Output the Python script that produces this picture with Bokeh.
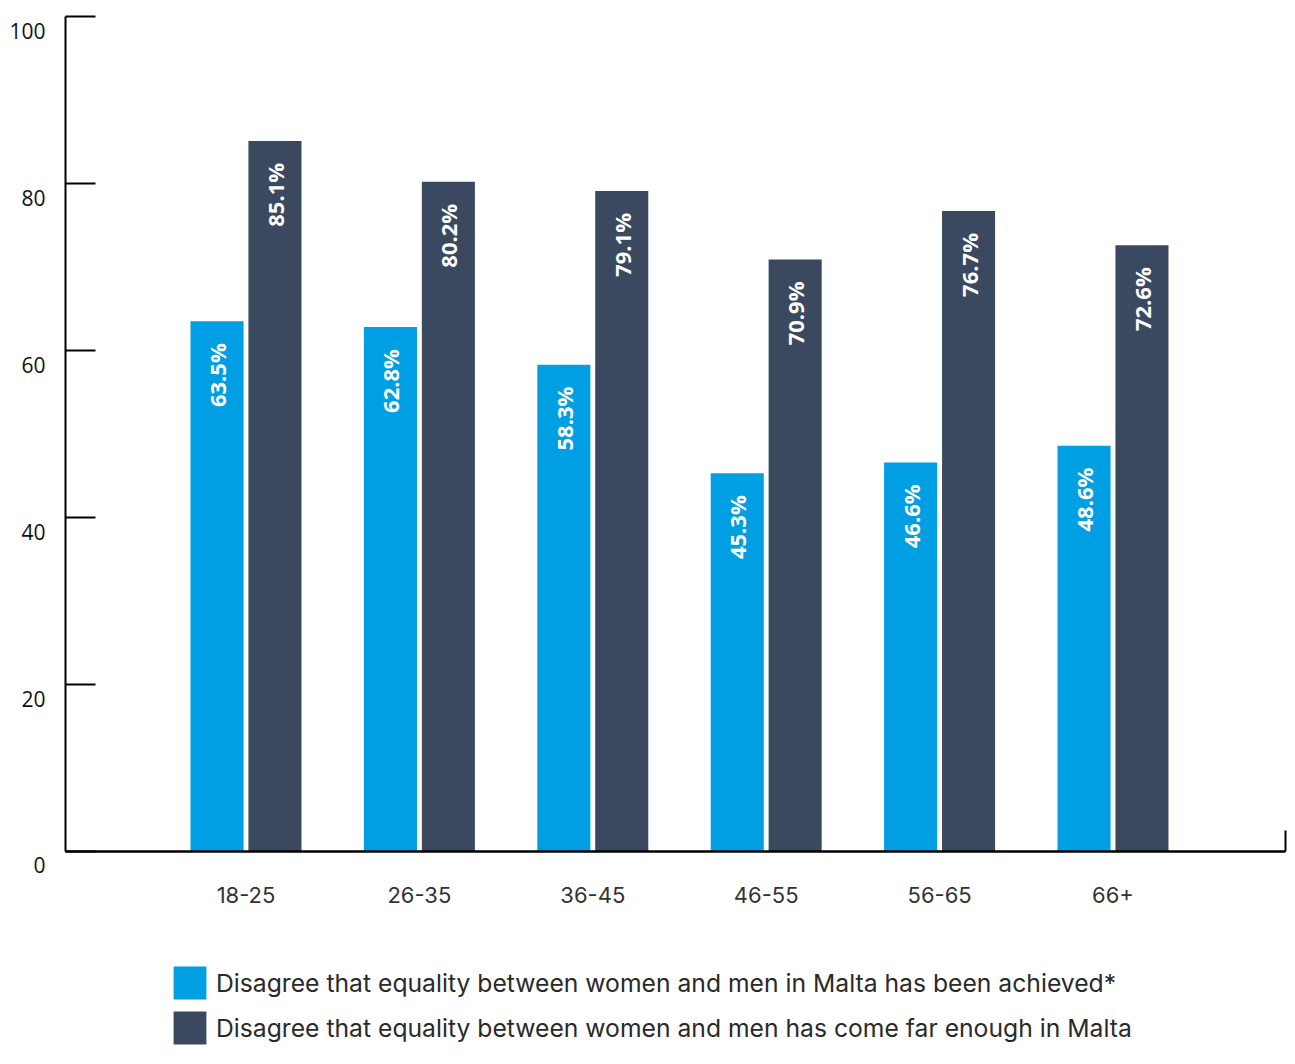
import numpy as np
from bokeh.plotting import figure
from bokeh.layouts import column
from bokeh.models import (Range1d, LinearAxis, FixedTicker, ColumnDataSource, Legend,
                          LegendItem, CustomJSTickFormatter)
from bokeh.transform import dodge
from bokeh.core.properties import value
from bokeh.embed import file_html
from bokeh.resources import INLINE

# ---- data ----
age_groups = ["18-25", "26-35", "36-45", "46-55", "56-65", "66+"]
achieved = [63.5, 62.8, 58.3, 45.3, 46.6, 48.6]
far_enough = [85.1, 80.2, 79.1, 70.9, 76.7, 72.6]
y_ticks = [0, 20, 40, 60, 80, 100]
series_names = [
    "Disagree that equality between women and men in Malta has been achieved*",
    "Disagree that equality between women and men has come far enough in Malta",
]
colors = ["#009FE3", "#3A4960"]

# ---- layout ----
W = 1287
H1, H2 = 930, 118
B_LEFT, B_RIGHT, B_TOP = 65, 2, 16
B_BOTTOM = H1 - 851
frame_w = W - B_LEFT - B_RIGHT
frame_h = H1 - B_TOP - B_BOTTOM
px_per_unit = frame_h / 100.0
label_shift = 14 / px_per_unit

group_px = 173.4           # pixel distance between group centres
first_px = 245.5 - B_LEFT  # first group centre from frame left
x_start = -first_px / group_px
x_end = x_start + frame_w / group_px

idx = list(range(len(age_groups)))
src = ColumnDataSource(dict(
    idx=idx, achieved=achieved, far=far_enough,
    achieved_lbl=[f"{v}%" for v in achieved],
    far_lbl=[f"{v}%" for v in far_enough],
))

p = figure(width=W, height=H1, output_backend="svg", toolbar_location=None,
           x_range=Range1d(x_start, x_end), y_range=Range1d(0, 100),
           x_axis_type=None, y_axis_type=None,
           min_border_left=B_LEFT, min_border_right=B_RIGHT,
           min_border_top=B_TOP, min_border_bottom=B_BOTTOM)
p.outline_line_color = None
p.background_fill_color = "white"
p.border_fill_color = "white"

off, bw = 0.167, 0.306
r1 = p.vbar(x=dodge('idx', -off, range=p.x_range), top='achieved', width=bw,
            source=src, fill_color=colors[0], line_color=None)
r2 = p.vbar(x=dodge('idx', off, range=p.x_range), top='far', width=bw,
            source=src, fill_color=colors[1], line_color=None)

for col, lbl, sgn in (("achieved", "achieved_lbl", -1), ("far", "far_lbl", 1)):
    p.text(x=dodge('idx', sgn * off, range=p.x_range), y=col, text=lbl, source=src,
           angle=np.pi / 2, text_align="right", text_baseline="middle", y_offset=22,
           text_color="white", text_font=value("Open Sans"), text_font_style="bold",
           text_font_size="22px")

# y axis: line + inward ticks, no labels
yax = LinearAxis(ticker=FixedTicker(ticks=y_ticks, minor_ticks=[]), bounds=(0, 100),
                 axis_line_width=2, axis_line_color="black",
                 major_tick_in=30, major_tick_out=0, major_tick_line_width=2,
                 major_tick_line_color="black", minor_tick_line_color=None,
                 major_label_text_font_size="1px", major_label_text_alpha=0,
                 major_label_standoff=0)
p.add_layout(yax, "left")

# y labels, each a little below its tick (the bottom one pushed down by an empty first line)
ylab_ticks = [t if t == y_ticks[0] else t - label_shift for t in y_ticks]
ylab = LinearAxis(ticker=FixedTicker(ticks=ylab_ticks, minor_ticks=[]),
                  formatter=CustomJSTickFormatter(
                      args=dict(s=label_shift, lo=y_ticks[0]),
                      code="if (Math.abs(tick - lo) < 1e-9) { return '\\n' + lo; }"
                           " return Math.round(tick + s).toString();"),
                  axis_line_color=None, major_tick_line_color=None, minor_tick_line_color=None,
                  major_label_text_font="Open Sans", major_label_text_font_size="21px",
                  major_label_text_line_height=0.95,
                  major_label_text_color="#111111", major_label_standoff=14)
p.add_layout(ylab, "left")

# x axis
xax = LinearAxis(ticker=FixedTicker(ticks=idx, minor_ticks=[x_end - 0.002]),
                 major_label_overrides={i: g for i, g in enumerate(age_groups)},
                 axis_line_width=2.5, axis_line_color="black",
                 major_tick_line_color=None, minor_tick_in=21, minor_tick_out=0,
                 minor_tick_line_width=2, minor_tick_line_color="black",
                 major_label_standoff=29, major_label_text_font="Inter",
                 major_label_text_font_size="22px", major_label_text_color="#333333")
p.add_layout(xax, "below")

# ---- legend strip (its bars fall outside its y range, only the legend shows) ----
p2 = figure(width=W, height=H2, output_backend="svg", toolbar_location=None,
            x_range=p.x_range, y_range=Range1d(1000, 1001),
            x_axis_type=None, y_axis_type=None,
            min_border_left=B_LEFT, min_border_right=B_RIGHT,
            min_border_top=0, min_border_bottom=0)
p2.outline_line_color = None
p2.background_fill_color = "white"
p2.border_fill_color = "white"
l1 = p2.vbar(x=dodge('idx', -off, range=p2.x_range), top='achieved', width=bw,
             source=src, fill_color=colors[0], line_color=None)
l2 = p2.vbar(x=dodge('idx', off, range=p2.x_range), top='far', width=bw,
             source=src, fill_color=colors[1], line_color=None)

legend = Legend(items=[LegendItem(label=series_names[0], renderers=[l1]),
                       LegendItem(label=series_names[1], renderers=[l2])],
                location=(169 - B_LEFT, 0), orientation="vertical",
                glyph_width=41, glyph_height=41, spacing=4, label_standoff=6,
                padding=0, margin=0, border_line_color=None, background_fill_alpha=0,
                label_text_font="Inter", label_text_font_size="24.7px",
                label_text_color="#2a2a2a", label_height=41)
p2.add_layout(legend)

layout = column(p, p2, spacing=0)
open("out.html", "w").write(file_html(layout, INLINE))
